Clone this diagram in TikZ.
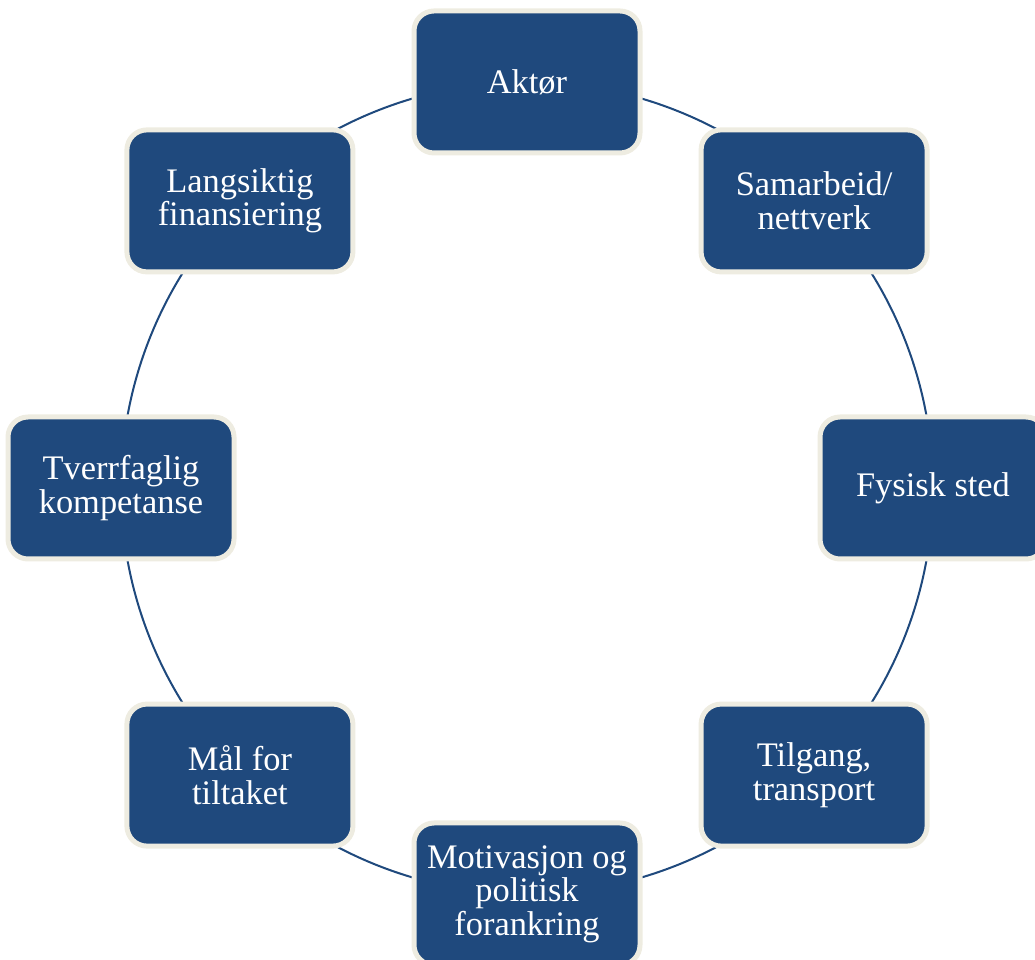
\documentclass[tikz,border=0pt]{standalone}
\usepackage{fontspec}
\setmainfont{Liberation Serif}
\usetikzlibrary{backgrounds}
\definecolor{boksblaa}{HTML}{1F497D}
\definecolor{kantgraa}{HTML}{EEECE1}
\tikzset{
	boks/.style={draw=kantgraa, line width=5pt, fill=boksblaa,
		rounded corners=20pt, minimum width=226pt, minimum height=142pt,
		inner sep=0pt, text=white, align=center,
		font=\fontsize{34.4}{33.5}\selectfont},
	bue/.style={draw=boksblaa, line width=2pt}
}
\begin{document}
\begin{tikzpicture}[x=1pt, y=1pt]
		\useasboundingbox (0,0) rectangle (1035,960);
		\clip (0,0) rectangle (1035,960);
		\coordinate (midt) at (527,472);
		\node[boks] (n1) at ([shift={(90:406)}]midt) {Aktør};
		\node[boks] (n2) at ([shift={(45:406)}]midt) {Samarbeid/\\nettverk};
		\node[boks] (n3) at ([shift={(0:406)}]midt) {Fysisk sted};
		\node[boks] (n4) at ([shift={(-45:406)}]midt) {Tilgang,\\transport};
		\node[boks] (n5) at ([shift={(-90:406)}]midt) {Motivasjon og\\politisk\\forankring};
		\node[boks] (n6) at ([shift={(-135:406)}]midt) {Mål for\\tiltaket};
		\node[boks] (n7) at ([shift={(180:406)}]midt) {Tverrfaglig\\kompetanse};
		\node[boks] (n8) at ([shift={(135:406)}]midt) {Langsiktig\\finansiering};
		% buene mellom boksene
		\begin{scope}[on background layer]
			\foreach\a/\b in{1/2, 2/3, 3/4, 4/5, 5/6, 6/7, 7/8, 8/1}{
				\draw[bue] (n\a.center) to[bend left=22.5, looseness=.885] (n\b.center);
			}
		\end{scope}
	\end{tikzpicture}
\end{document}
